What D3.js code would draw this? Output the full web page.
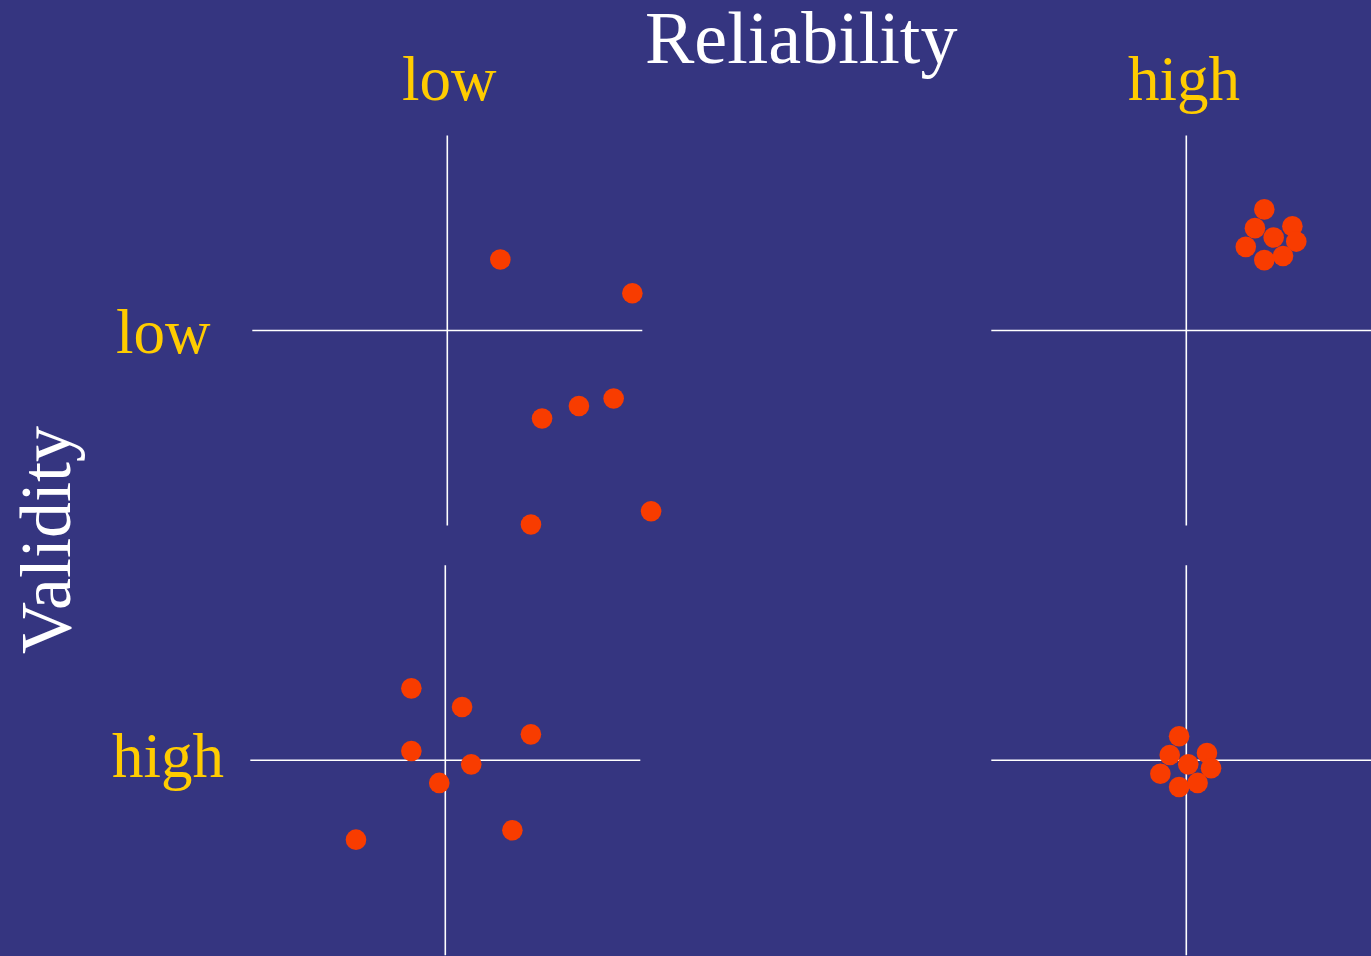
<!DOCTYPE html>
<html>
<head>
<meta charset="utf-8">
<script src="https://cdn.jsdelivr.net/npm/d3@7"></script>
<style>
  html, body { margin: 0; padding: 0; background: #353580; overflow: hidden; }
  svg { display: block; }
</style>
</head>
<body>
<svg id="chart" width="1371" height="956"></svg>
<script>
// ---- data ----
const reliabilityLevels = ["low", "high"];
const validityLevels = ["low", "high"];
const titleX = "Reliability";
const titleY = "Validity";

// offsets from the true value (units: -10..10)
const lowRelLowVal = [
  [2.72, 3.64], [9.49, 1.91], [4.86, -4.51], [6.75, -3.87],
  [8.53, -3.49], [4.29, -9.95], [10.45, -9.27]
];
const highRelLowVal = [
  [4.0, 6.21], [3.52, 5.25], [5.44, 5.35], [4.48, 4.77],
  [3.05, 4.29], [5.64, 4.56], [4.0, 3.61], [4.96, 3.82]
];
const lowRelHighVal = [
  [-1.74, 3.69], [0.86, 2.73], [4.39, 1.33], [-1.74, 0.48],
  [1.33, -0.21], [-0.31, -1.16], [3.44, -3.59], [-4.58, -4.07]
];
const highRelHighVal = [
  [-0.37, 1.23], [-0.85, 0.27], [1.06, 0.37], [0.10, -0.21],
  [-1.33, -0.69], [1.27, -0.41], [-0.37, -1.37], [0.58, -1.16]
];

const panels = [
  { rel: "low",  val: "low",  points: lowRelLowVal },
  { rel: "high", val: "low",  points: highRelLowVal },
  { rel: "low",  val: "high", points: lowRelHighVal },
  { rel: "high", val: "high", points: highRelHighVal }
];

// ---- layout ----
const bg = "#353580", dotColor = "#F83C00", labelColor = "#FFCC00", white = "#FFFFFF";
const half = 195;
const colCenter = { low: 446.3, high: 1186.3 };
const rowCenter = { low: 330.5, high: 760.3 };
const colShift = { "low-low": 1, "low-high": -1, "high-low": 0, "high-high": 0 };

const svg = d3.select("#chart");
svg.append("rect").attr("width", 1371).attr("height", 956).attr("fill", bg);

panels.forEach(p => {
  const cx = colCenter[p.rel] + colShift[p.rel + "-" + p.val];
  const cy = rowCenter[p.val];
  const x = d3.scaleLinear().domain([-10, 10]).range([cx - half, cx + half]);
  const y = d3.scaleLinear().domain([-10, 10]).range([cy + half, cy - half]);
  const g = svg.append("g");
  g.append("line")
    .attr("x1", x(-10)).attr("x2", x(10)).attr("y1", y(0)).attr("y2", y(0))
    .attr("stroke", white).attr("stroke-width", 1.6);
  g.append("line")
    .attr("x1", x(0)).attr("x2", x(0)).attr("y1", y(-10)).attr("y2", y(10))
    .attr("stroke", white).attr("stroke-width", 1.6);
  g.selectAll("circle").data(p.points).join("circle")
    .attr("cx", d => x(d[0])).attr("cy", d => y(d[1]))
    .attr("r", 10.3).attr("fill", dotColor);
});

const serif = "'Liberation Serif', 'Times New Roman', serif";

svg.append("text").text(titleX)
  .attr("x", 645).attr("y", 63)
  .attr("font-family", serif).attr("font-size", 74).attr("fill", white);

svg.append("text").text(titleY)
  .attr("transform", "translate(70,540) rotate(-90)")
  .attr("text-anchor", "middle")
  .attr("font-family", serif).attr("font-size", 72).attr("fill", white);

// column labels (reliability)
const colLabelX = { low: 402, high: 1128 };
svg.selectAll("text.col").data(reliabilityLevels).join("text")
  .attr("class", "col").text(d => d)
  .attr("x", d => colLabelX[d]).attr("y", 100)
  .attr("font-family", serif).attr("font-size", 63).attr("fill", labelColor);

// row labels (validity)
const rowLabelPos = { low: [116, 353], high: [112, 777] };
svg.selectAll("text.row").data(validityLevels).join("text")
  .attr("class", "row").text(d => d)
  .attr("x", d => rowLabelPos[d][0]).attr("y", d => rowLabelPos[d][1])
  .attr("font-family", serif).attr("font-size", 63).attr("fill", labelColor);
</script>
</body>
</html>
